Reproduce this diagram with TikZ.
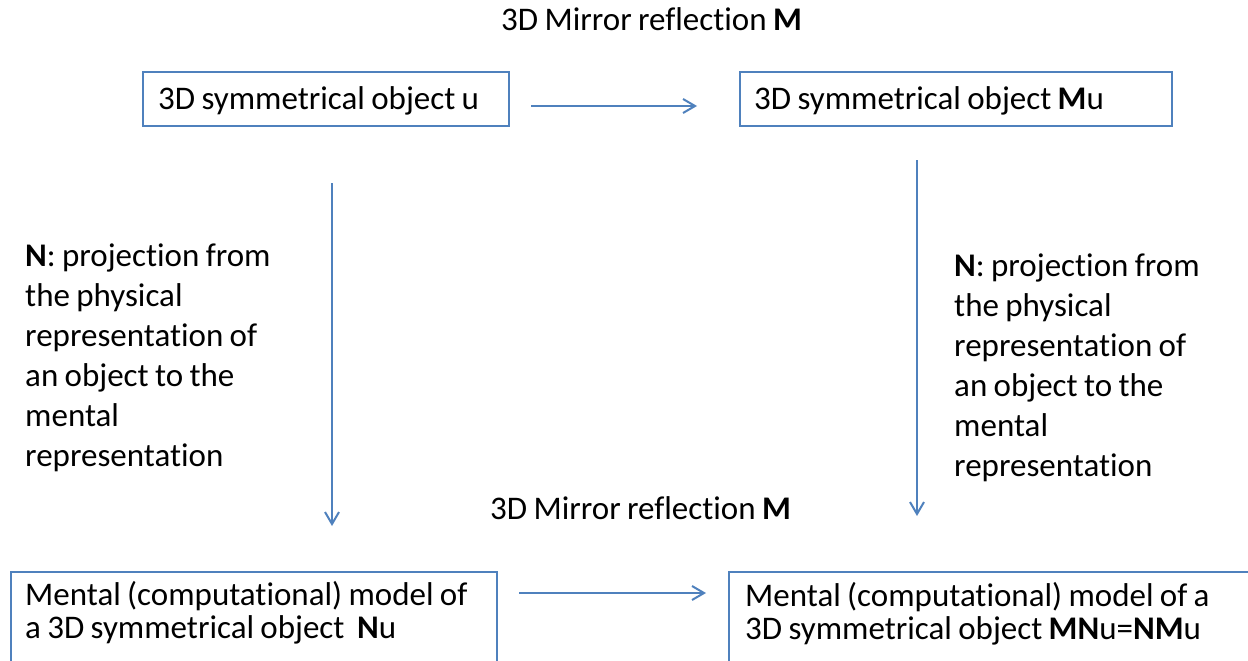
\documentclass[tikz,border=0pt]{standalone}
\usepackage{fontspec}
\setmainfont{Carlito}[Ligatures=NoCommon, WordSpace=0.85]
\usetikzlibrary{arrows.meta,calc}
\definecolor{edge}{HTML}{4F81BD}
\newcommand\natsp{\spaceskip=0pt\xspaceskip=0pt\relax}
\begin{document}
\begin{tikzpicture}[x=1pt,y=-1pt,
  box/.style={draw=edge, line width=2pt, anchor=north west, inner sep=0pt, outer sep=0pt},
  lbl/.style={anchor=base west, inner sep=0pt, font=\fontsize{33}{40}\selectfont},
  multi/.style={lbl, text width=#1, align=left},
  tight/.style={font=\fontsize{33}{33}\selectfont},
  arr/.style={draw=edge, line width=2pt, -{Straight Barb[length=12pt,width=14pt]}}]
\clip (0,0) rectangle (1248,661);
\fill[white] (0,0) rectangle (1248,661);
% boxes
\node[box, minimum width=366pt, minimum height=54pt] (b1) at (143,72) {};
\node[box, minimum width=432pt, minimum height=54pt] (b2) at (740,72) {};
\node[box, minimum width=486pt, minimum height=100pt] (b3) at (11,572) {};
\node[box, minimum width=540pt, minimum height=100pt] (b4) at (729,572) {};
% texts
\node[lbl] (ttop) at (501,31) {3D Mirror reflection \textbf{M}};
\node[lbl] (tbot) at (490,519) {3D Mirror reflection \textbf{M}};
\node[lbl] (t1) at (158,109) {3D symmetrical object u};
\node[lbl] (t2) at (754,109) {3D symmetrical object \textbf{M}u};
\node[multi=280pt] (nl) at (25,266) {\natsp\textbf{N}: projection from\\the physical\\representation of\\an object to the\\mental\\representation};
\node[multi=280pt] (nr) at (954,276) {\natsp\textbf{N}: projection from\\the physical\\representation of\\an object to the\\mental\\representation};
\node[multi=480pt, tight] (t3) at (25,605) {\natsp Mental (computational) model of\\a 3D symmetrical object\ \ \textbf{N}u};
\node[multi=500pt, tight] (t4) at (745,606) {\natsp Mental (computational) model of a\\3D symmetrical object \textbf{MN}u=\textbf{NM}u};
% arrows
\draw[arr] ($(b1.east)+(22,7)$) -- ($(b2.west)+(-43,7)$);
\draw[arr] ($(b1.south)+(6,57)$) -- ($(b3.north)+(78,-46)$);
\draw[arr] ($(b2.south)+(-39,34)$) -- ($(b4.north)+(-82,-56)$);
\draw[arr] ($(b3.east)+(22,-29)$) -- ($(b4.west)+(-23,-29)$);
\end{tikzpicture}
\end{document}
